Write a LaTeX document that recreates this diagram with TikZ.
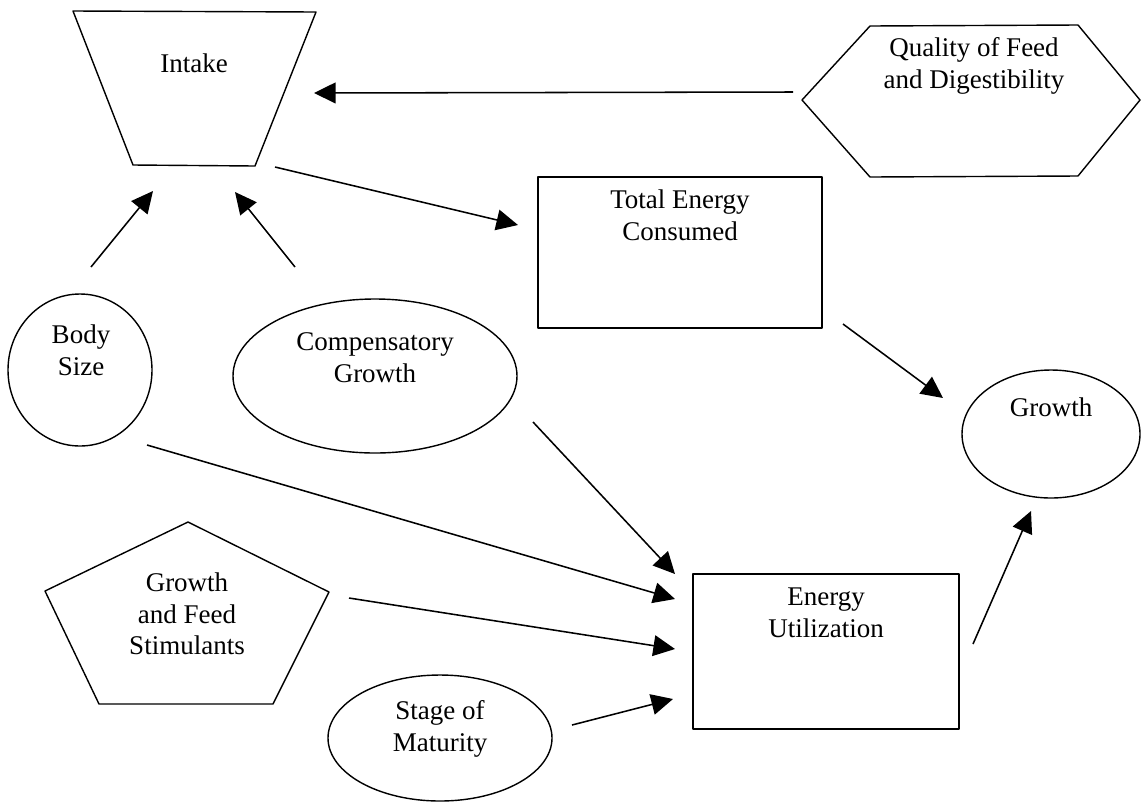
\documentclass[tikz,border=0pt]{standalone}
\usepackage{fontspec}
\setmainfont{Liberation Serif}
\usetikzlibrary{arrows.meta}

\begin{document}
\begin{tikzpicture}[line join = round, x=0.025cm, y=-0.025cm, line width=1pt,
	txt/.style={align=center, inner sep=0pt, font=\fontsize{19.2}{22.5}\selectfont},
	arr/.style={-{Triangle[length=0.54cm, width=0.52cm]}, line width=1.1pt}]
		\useasboundingbox (0,0) rectangle (1141,804);
		
		% boxes
		\draw (73,11) -- (316,12) -- (255,166) -- (133,165) -- cycle;
		\draw (802,100) -- (870,26) -- (1078,25) -- (1140,100) -- (1078,176) -- (870,177) -- cycle;
		\draw (538,177) rectangle (822,328);
		\draw (693,574) rectangle (959,729);
		\draw (188,522) -- (329,592) -- (273,704) -- (99,704) -- (45,591) -- cycle;
		\draw (80,370) ellipse [x radius=72, y radius=76];
		\draw (375,376) ellipse [x radius=142, y radius=77];
		\draw (1051,434) ellipse [x radius=89, y radius=64];
		\draw (440,738) ellipse [x radius=112, y radius=63];
		
		% texts
		\node[txt] (intake) at (194,63) {Intake};
		\node[txt] (quality) at (974,66) {Quality of Feed\\and Digestibility};
		\node[txt] (total) at (680,215) {Total Energy\\Consumed};
		\node[txt] (bodysize) at (81,350) {Body\\Size};
		\node[txt] (compgrowth) at (375,358) {Compensatory\\Growth};
		\node[txt] (growth) at (1051,407) {Growth};
		\node[txt] (stimulants) at (187,614) {Growth\\and Feed\\Stimulants};
		\node[txt] (maturity) at (440,729) {Stage of\\Maturity};
		\node[txt] (energyuse) at (826,613) {Energy\\Utilization};
		
		% arrow ends
		\coordinate (q1) at (793,92);  \coordinate (q2) at (314,93);
		\coordinate (b1) at (91,267);  \coordinate (b2) at (153,191);
		\coordinate (c1) at (295,267); \coordinate (c2) at (235,192);
		\coordinate (i1) at (275,167); \coordinate (i2) at (518,225);
		\coordinate (t1) at (843,324); \coordinate (t2) at (943,398);
		\coordinate (d1) at (533,422); \coordinate (d2) at (675,574);
		\coordinate (s1) at (147,445); \coordinate (s2) at (675,599);
		\coordinate (p1) at (349,598); \coordinate (p2) at (675,649);
		\coordinate (m1) at (572,725); \coordinate (m2) at (673,699);
		\coordinate (e1) at (973,644); \coordinate (e2) at (1031,511);
		\foreach \a/\b in {q1/q2, b1/b2, c1/c2, i1/i2, t1/t2, d1/d2, s1/s2, p1/p2, m1/m2, e1/e2}
		\draw[arr] (\a) -- (\b);
		
\end{tikzpicture}
\end{document}
